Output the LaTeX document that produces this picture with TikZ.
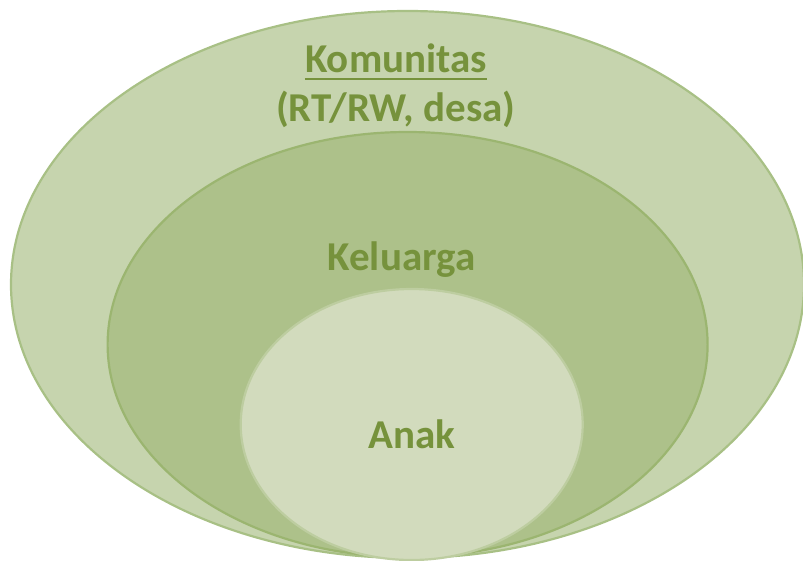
\documentclass[tikz,border=0pt]{standalone}
\usepackage{fontspec}
\setmainfont{Carlito}
\definecolor{outerfill}{HTML}{C6D4AE}
\definecolor{outerline}{HTML}{A8C085}
\definecolor{midfill}{HTML}{ADC18A}
\definecolor{midline}{HTML}{9BB570}
\definecolor{innerfill}{HTML}{D2DBBD}
\definecolor{innerline}{HTML}{BDCDA0}
\definecolor{txt}{HTML}{76923C}
\tikzset{
  lbl/.style={text=txt, font=\bfseries\fontsize{41}{49}\selectfont, anchor=base, inner sep=0pt},
}
\begin{document}
\begin{tikzpicture}[x=1pt,y=-1pt]
\useasboundingbox (0,0) rectangle (803,560);
\clip (0,0) rectangle (803,560);
\draw[fill=outerfill, draw=outerline, line width=2.2pt] (407.5,284.5) ellipse [x radius=396.5, y radius=273.5];
\draw[fill=midfill, draw=midline, line width=2.2pt] (407.6,344.5) ellipse [x radius=300, y radius=212.5];
\draw[fill=innerfill, draw=innerline, line width=2.2pt] (411.7,424.5) ellipse [x radius=171, y radius=135.5];
\node[lbl] (kom) at (396,72.3) {Komunitas};
\draw[txt, line width=2.5pt] ([yshift=-6.7pt]kom.base west) -- ([yshift=-6.7pt]kom.base east);
\node[lbl] (rtrw) at (395.8,121.7) {(RT/RW, desa)};
\node[lbl] (kel) at (401.5,270.7) {Keluarga};
\node[lbl] (anak) at (412,448.3) {Anak};
\end{tikzpicture}
\end{document}
